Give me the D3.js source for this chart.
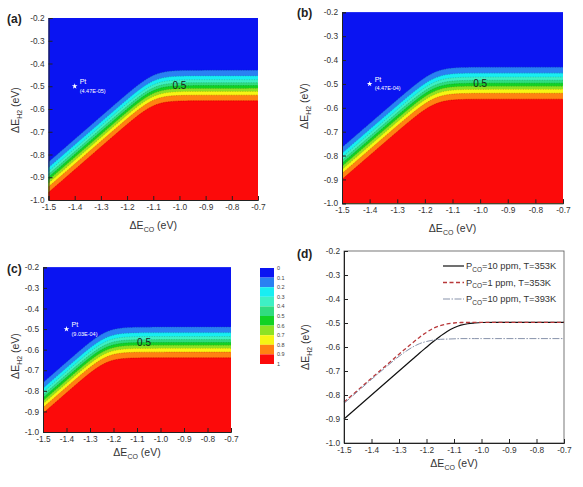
<!DOCTYPE html>
<html><head><meta charset="utf-8">
<script src="https://cdn.jsdelivr.net/npm/d3@7"></script>
<style>body{margin:0;background:#fff} svg{display:block} text{font-family:"Liberation Sans",Arial,sans-serif}</style>
</head><body><svg id="c" width="583" height="487"></svg>
<script>
// ---------- data ----------
const xTicks = [-1.5,-1.4,-1.3,-1.2,-1.1,-1.0,-0.9,-0.8,-0.7];
const yTicks = [-1.0,-0.9,-0.8,-0.7,-0.6,-0.5,-0.4,-0.3,-0.2];
const levels = [0,0.1,0.2,0.3,0.4,0.5,0.6,0.7,0.8,0.9];
const levelColors = ["#0a14f2","#2a80f2","#18eef2","#3ef0c4","#30dc80","#12d224","#8ee224","#f6f614","#ff8212","#fc0a0a"];
const colorbarLabels = ["0","0.1","0.2","0.3","0.4","0.5","0.6","0.7","0.8","0.9","1"];
const panelNames = ["(a)","(b)","(c)"];
const ptValues = ["(4.47E-05)","(4.47E-04)","(9.03E-04)"];
const ptPoint = [-1.4,-0.5];
const flatLevel = [-0.497,-0.497,-0.565];   // ΔE_H2 of the 0.5 contour (flat part)
const diagOffset = [0.600,0.667,0.665];     // 0.5 contour: ΔE_H2 = ΔE_CO + offset (diagonal part)
const kTeV = [0.0304,0.0304,0.0339];        // band width (kT, eV) at 353 K / 393 K
const label05X = [-1.0,-1.0,-1.07];

// panel (d) curves
const dX     = [-1.5,-1.45,-1.4,-1.35,-1.3,-1.275,-1.25,-1.225,-1.2,-1.175,-1.15,-1.125,-1.1,-1.075,-1.05,-1.025,-1.0,-0.95,-0.9,-0.8,-0.7];
const dBlack = [-0.900,-0.850,-0.800,-0.750,-0.700,-0.675,-0.650,-0.625,-0.601,-0.577,-0.555,-0.535,-0.520,-0.509,-0.503,-0.500,-0.498,-0.497,-0.497,-0.497,-0.497];
const dRed   = [-0.830,-0.780,-0.730,-0.680,-0.630,-0.606,-0.582,-0.559,-0.539,-0.522,-0.511,-0.504,-0.500,-0.498,-0.498,-0.497,-0.497,-0.497,-0.497,-0.497,-0.497];
const dGray  = [-0.835,-0.785,-0.735,-0.686,-0.639,-0.618,-0.600,-0.586,-0.577,-0.571,-0.568,-0.567,-0.566,-0.565,-0.565,-0.565,-0.565,-0.565,-0.565,-0.565,-0.565];
const legendPressure = ["10","1","10"];
const legendTemp = ["353K","353K","393K"];

// ---------- layout ----------
const svg = d3.select("#c");
const boxes = [
  {L:48.5,R:258,T:18,B:200, lx:7, ly:23, xt:229, yx:15, yc:110},
  {L:342,R:563,T:12.3,B:203.3, lx:297, ly:17, xt:232, yx:304, yc:106},
  {L:43,R:231,T:267.3,B:432, lx:7, ly:273, xt:456, yx:15, yc:356},
  {L:344,R:564,T:251,B:443, lx:297, ly:258, xt:467, yx:305, yc:347}
];
const fmt = d => d.toFixed(1);

function axes(g, b, xs, ys){
  const ax = g.append("g").attr("transform",`translate(0,${b.B})`)
    .call(d3.axisBottom(xs).tickValues(xTicks).tickFormat(fmt).tickSize(-4).tickPadding(4));
  const ay = g.append("g").attr("transform",`translate(${b.L},0)`)
    .call(d3.axisLeft(ys).tickValues(yTicks).tickFormat(fmt).tickSize(-4).tickPadding(4));
  [ax,ay].forEach(a=>{
    a.selectAll("text").attr("font-size",8.3).attr("fill","#333").attr("font-family","Liberation Sans, Arial, sans-serif");
    a.select(".domain").attr("stroke","#222");
    a.selectAll(".tick line").attr("stroke","#222");
  });
}
function titles(g, b, sub){
  const xt = g.append("text").attr("x",(b.L+b.R)/2).attr("y",b.xt).attr("text-anchor","middle")
    .attr("font-size",10.5).attr("fill","#333");
  xt.append("tspan").text("ΔE");
  xt.append("tspan").attr("font-size",7).attr("dy",3).text("CO");
  xt.append("tspan").attr("dy",-3).text(" (eV)");
  const yt = g.append("text").attr("transform",`translate(${b.yx},${b.yc}) rotate(-90)`)
    .attr("text-anchor","middle").attr("font-size",10.5).attr("fill","#333").attr("dy","0.35em");
  yt.append("tspan").text("ΔE");
  yt.append("tspan").attr("font-size",7).attr("dy",3).text(sub);
  yt.append("tspan").attr("dy",-3).text(" (eV)");
}

// ---------- contour panels ----------
const n = 205, pad = 2, step = 0.8/(n-1-2*pad);
boxes.slice(0,3).forEach((b,k)=>{
  const xs = d3.scaleLinear().domain([-1.5,-0.7]).range([b.L,b.R]);
  const ys = d3.scaleLinear().domain([-1.0,-0.2]).range([b.B,b.T]);
  const a = flatLevel[k], bb = a - diagOffset[k], kT = kTeV[k];
  const vals = new Float64Array(n*n);
  for(let j=0;j<n;j++) for(let i=0;i<n;i++){
    const x = -1.5 + (i-pad)*step, y = -0.2 - (j-pad)*step;
    const KH = Math.exp(-(y-a)/kT), KCO = Math.exp(-(x-bb)/kT);
    vals[j*n+i] = KH/(1+KH+KCO);
  }
  const conts = d3.contours().size([n,n]).thresholds(levels)(vals);
  const proj = d3.geoTransform({point(px,py){
    this.stream.point(xs(-1.5+(px-0.5-pad)*step), ys(-0.2-(py-0.5-pad)*step));
  }});
  const path = d3.geoPath(proj);
  const g = svg.append("g");
  const cid = "clip"+k;
  g.append("clipPath").attr("id",cid).append("rect")
    .attr("x",b.L).attr("y",b.T).attr("width",b.R-b.L).attr("height",b.B-b.T);
  const cg = g.append("g").attr("clip-path",`url(#${cid})`);
  cg.append("rect").attr("x",b.L).attr("y",b.T).attr("width",b.R-b.L).attr("height",b.B-b.T).attr("fill",levelColors[0]);
  cg.selectAll("path.f").data(conts).join("path").attr("class","f")
    .attr("d",path).attr("fill",(d,i)=>levelColors[i]).attr("stroke",(d,i)=>levelColors[i]).attr("stroke-width",0.3);
  cg.selectAll("path.l").data(conts.slice(1)).join("path").attr("class","l")
    .attr("d",path).attr("fill","none").attr("stroke","#000").attr("stroke-opacity",0.3)
    .attr("stroke-width",0.6).attr("stroke-dasharray","1,1.5");
  // 0.5 label
  cg.append("text").attr("x",xs(label05X[k])).attr("y",ys(flatLevel[k])).attr("dy","0.35em")
    .attr("text-anchor","middle").attr("font-size",10).attr("fill","#1a1a1a").text("0.5");
  // Pt marker
  cg.append("path").attr("d",d3.symbol(d3.symbolStar,10)())
    .attr("transform",`translate(${xs(ptPoint[0])},${ys(ptPoint[1])})`).attr("fill","#fff");
  cg.append("text").attr("x",xs(ptPoint[0])+5).attr("y",ys(ptPoint[1])-2).attr("font-size",7).attr("fill","#fff").text("Pt");
  cg.append("text").attr("x",xs(ptPoint[0])+5).attr("y",ys(ptPoint[1])+6.5).attr("font-size",5.5).attr("fill","#fff").text(ptValues[k]);
  axes(g,b,xs,ys);
  titles(g,b,"H2");
  g.append("text").attr("x",b.lx).attr("y",b.ly).attr("font-size",12).attr("font-weight","bold").attr("fill","#222").text(panelNames[k]);
});

// ---------- colorbar ----------
const cb = svg.append("g");
const cby = d3.scaleLinear().domain([0,1]).range([268,364]);
cb.selectAll("rect").data(levels).join("rect")
  .attr("x",260).attr("width",14).attr("y",d=>cby(d)).attr("height",cby(0.1)-cby(0))
  .attr("fill",(d,i)=>levelColors[i]);
cb.selectAll("text").data(colorbarLabels).join("text")
  .attr("x",277).attr("y",(d,i)=>cby(i/10)).attr("dy","0.35em").attr("font-size",5.5).attr("fill","#444").text(d=>d);

// ---------- panel (d) ----------
{
  const b = boxes[3];
  const xs = d3.scaleLinear().domain([-1.5,-0.7]).range([b.L,b.R]);
  const ys = d3.scaleLinear().domain([-1.0,-0.2]).range([b.B,b.T]);
  const g = svg.append("g");
  g.append("rect").attr("x",b.L).attr("y",b.T).attr("width",b.R-b.L).attr("height",b.B-b.T)
    .attr("fill","none").attr("stroke","#555").attr("stroke-width",0.8);
  const line = d3.line().x((d,i)=>xs(dX[i])).y(d=>ys(d)).curve(d3.curveMonotoneX);
  const series = [
    {v:dBlack, c:"#111", w:1.2, dash:null},
    {v:dRed, c:"#b8383a", w:1.3, dash:"4,2.5"},
    {v:dGray, c:"#8792aa", w:1, dash:"7,1.5,1.5,1.5"}
  ];
  series.forEach(s=>{
    g.append("path").attr("d",line(s.v)).attr("fill","none").attr("stroke",s.c)
      .attr("stroke-width",s.w).attr("stroke-dasharray",s.dash);
  });
  axes(g,b,xs,ys);
  titles(g,b,"H2");
  g.append("text").attr("x",b.lx).attr("y",b.ly).attr("font-size",12).attr("font-weight","bold").attr("fill","#222").text("(d)");
  const lg = g.append("g");
  series.forEach((s,i)=>{
    const y = 266 + i*16.5;
    lg.append("line").attr("x1",443).attr("x2",464).attr("y1",y).attr("y2",y)
      .attr("stroke",s.c).attr("stroke-width",s.w).attr("stroke-dasharray",s.dash);
    const t = lg.append("text").attr("x",466).attr("y",y).attr("dy","0.35em").attr("font-size",9.3).attr("fill","#333");
    t.append("tspan").text("P");
    t.append("tspan").attr("font-size",6.5).attr("dy",2.5).text("CO");
    t.append("tspan").attr("dy",-2.5).text(`=${legendPressure[i]} ppm, T=${legendTemp[i]}`);
  });
}
</script></body></html>
